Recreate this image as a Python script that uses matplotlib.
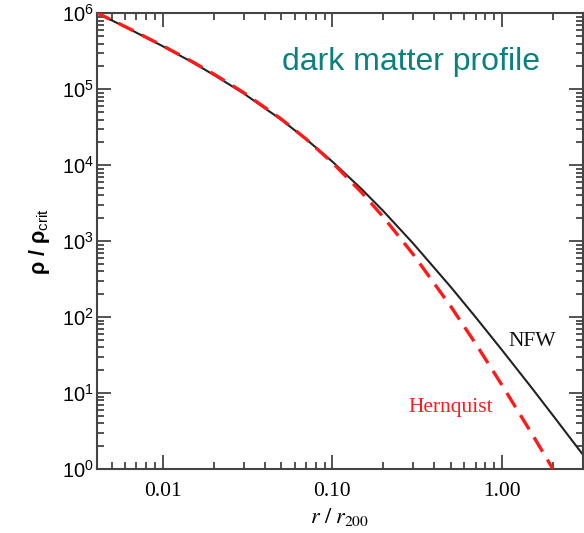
import matplotlib
matplotlib.use("Agg")
import matplotlib.pyplot as plt
from matplotlib.ticker import FixedLocator, LogLocator, NullFormatter, FixedFormatter

plt.rcParams['mathtext.fontset'] = 'custom'
plt.rcParams['mathtext.rm'] = 'Liberation Sans'
plt.rcParams['mathtext.it'] = 'Liberation Sans:italic'
plt.rcParams['mathtext.bf'] = 'Liberation Sans:bold'

# radius r / r200
r_nfw = [0.004, 0.006, 0.01, 0.015, 0.02, 0.03, 0.05, 0.07, 0.1, 0.15,
         0.2, 0.3, 0.5, 0.7, 1.0, 1.5, 2.0, 3.0]
rho_nfw = [1.035e6, 6.64e5, 3.70e5, 2.26e5, 1.55e5, 8.83e4, 3.98e4, 2.21e4,
           1.12e4, 4.78e3, 2.49e3, 933, 249, 99.9, 37.0, 11.7, 5.08, 1.55]

r_hern = [0.004, 0.006, 0.01, 0.015, 0.02, 0.03, 0.05, 0.07, 0.1, 0.15,
          0.2, 0.3, 0.5, 0.7, 1.0, 1.5, 2.0]
rho_hern = [1.042e6, 6.71e5, 3.75e5, 2.30e5, 1.59e5, 9.06e4, 4.06e4, 2.22e4,
            1.085e4, 4.31e3, 2.08e3, 671, 138, 44.8, 12.8, 2.93, 1.00]

xticks = [0.01, 0.1, 1.0]
xticklabels = ['0.01', '0.10', '1.00']
yticks = [1, 10, 100, 1e3, 1e4, 1e5, 1e6]
yticklabels = [r'$10^{0}$', r'$10^{1}$', r'$10^{2}$', r'$10^{3}$',
               r'$10^{4}$', r'$10^{5}$', r'$10^{6}$']

fig = plt.figure(figsize=(5.84, 5.33), dpi=100)
ax = fig.add_axes([0.166, 0.120, 0.832, 0.855])

ax.plot(r_nfw, rho_nfw, color='#222222', lw=1.5, zorder=2)
ax.plot(r_hern, rho_hern, color='#ff1a1a', lw=2.4, dashes=(5, 2.8), zorder=3)

ax.set_xscale('log')
ax.set_yscale('log')
ax.set_xlim(0.0041, 3.0)
ax.set_ylim(1, 1e6)

ax.xaxis.set_major_locator(FixedLocator(xticks))
ax.xaxis.set_major_formatter(FixedFormatter(xticklabels))
ax.xaxis.set_minor_locator(LogLocator(base=10, subs=range(2, 10), numticks=20))
ax.xaxis.set_minor_formatter(NullFormatter())
ax.yaxis.set_major_locator(FixedLocator(yticks))
ax.yaxis.set_major_formatter(FixedFormatter(yticklabels))
ax.yaxis.set_minor_locator(LogLocator(base=10, subs=range(2, 10), numticks=20))
ax.yaxis.set_minor_formatter(NullFormatter())

ax.tick_params(which='both', direction='in', top=True, right=True,
               color='#444444', width=1.3)
ax.tick_params(which='major', length=10)
ax.tick_params(which='minor', length=5)
ax.tick_params(axis='x', which='major', pad=9, labelsize=15.5)
ax.tick_params(axis='y', which='major', pad=2, labelsize=14.5)
for lab in ax.get_xticklabels():
    lab.set_fontfamily('Liberation Serif')
for s in ax.spines.values():
    s.set_color('#444444')
    s.set_linewidth(1.5)

ax.set_xlabel(r'$r\ /\ r_{\rm 200}$', fontsize=16, math_fontfamily='stix', labelpad=4)
ax.set_ylabel(r'$\mathbf{ρ\ /\ ρ}_{\mathrm{crit}}$', fontsize=15.5, labelpad=7)

ax.text(0.895, 0.279, 'NFW', transform=ax.transAxes, ha='center', va='center',
        fontsize=15.5, family='Liberation Serif', color='#111111')
ax.text(0.728, 0.136, 'Hernquist', transform=ax.transAxes, ha='center', va='center',
        fontsize=15.5, family='Liberation Serif', color='#ff1a1a')
ax.text(0.646, 0.893, 'dark matter profile', transform=ax.transAxes, ha='center',
        va='center', fontsize=23, family='Liberation Sans', color='#0a8080')

fig.savefig('out.png', dpi=100)
